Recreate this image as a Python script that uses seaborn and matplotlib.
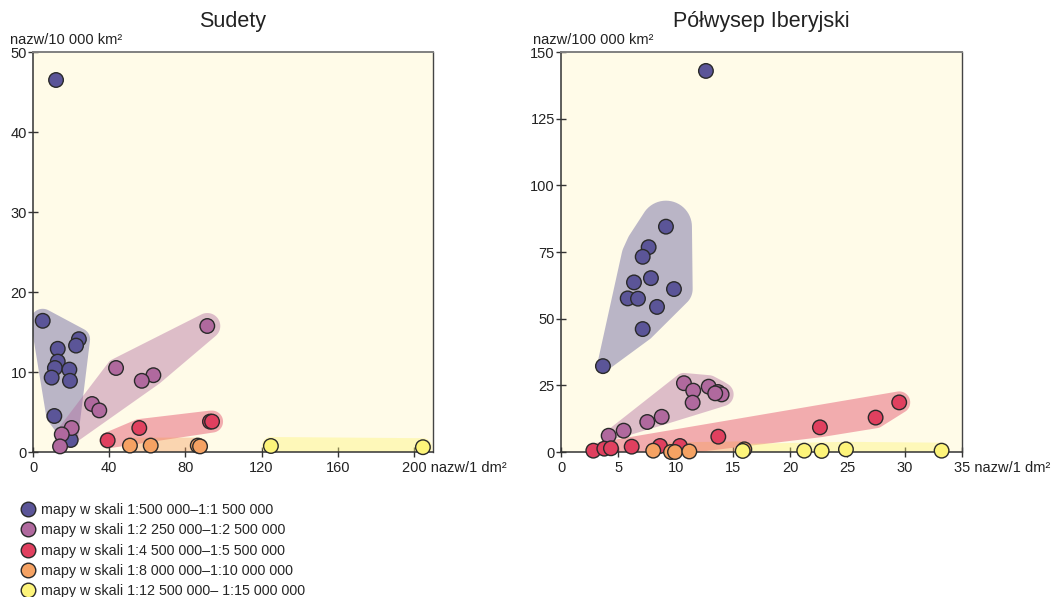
import numpy as np
import pandas as pd
import matplotlib
matplotlib.use("Agg")
import matplotlib.pyplot as plt
import matplotlib.transforms as mtrans
from matplotlib.patches import Polygon
from matplotlib.lines import Line2D
import seaborn as sns

# ---------------- data ----------------
groups = [
    "mapy w skali 1:500 000\u20131:1 500 000",
    "mapy w skali 1:2 250 000\u20131:2 500 000",
    "mapy w skali 1:4 500 000\u20131:5 500 000",
    "mapy w skali 1:8 000 000\u20131:10 000 000",
    "mapy w skali 1:12 500 000\u2013 1:15 000 000",
]
colors = ["#5b5598", "#b0699e", "#e0405f", "#f5a263", "#fdf47a"]

# Sudety (x: nazw/1 dm², y: nazw/10 000 km²)
sud_x = [
    [12.1, 5.1, 13.0, 24.1, 22.6, 13.0, 11.5, 9.8, 19.1, 19.4, 11.2, 19.8],
    [91.5, 43.6, 63.2, 57.1, 31.0, 34.8, 20.3, 15.1, 14.2],
    [39.2, 55.8, 92.9, 94.0],
    [50.9, 61.8, 86.5, 87.7],
    [124.9, 204.7],
]
sud_y = [
    [46.5, 16.4, 12.9, 14.1, 13.3, 11.3, 10.5, 9.3, 10.3, 8.9, 4.5, 1.5],
    [15.75, 10.5, 9.6, 8.9, 6.0, 5.2, 3.0, 2.2, 0.7],
    [1.45, 3.0, 3.8, 3.8],
    [0.8, 0.8, 0.8, 0.7],
    [0.75, 0.6],
]

# Półwysep Iberyjski (x: nazw/1 dm², y: nazw/100 000 km²)
ib_x = [
    [9.16, 7.65, 7.13, 7.85, 6.37, 9.86, 5.82, 6.72, 8.38, 7.13, 3.66, 12.65],
    [10.73, 11.54, 12.89, 13.7, 14.02, 13.46, 11.49, 8.79, 7.53, 5.47, 4.16],
    [2.82, 3.78, 4.36, 6.17, 8.64, 10.38, 13.73, 22.6, 27.46, 29.52],
    [8.05, 9.6, 9.95, 11.2, 16.0],
    [15.86, 21.23, 22.75, 24.87, 33.22],
]
ib_y = [
    [84.5, 76.8, 73.2, 65.2, 63.6, 61.1, 57.6, 57.5, 54.4, 46.1, 32.2, 142.9],
    [25.8, 23.0, 24.5, 22.5, 21.6, 22.0, 18.5, 13.2, 11.25, 8.0, 6.1],
    [0.5, 1.25, 1.4, 2.0, 2.25, 2.25, 5.75, 9.25, 12.9, 18.6],
    [0.5, 0.0, 0.0, 0.2, 1.0],
    [0.4, 0.5, 0.4, 1.0, 0.5],
]

sud_xticks = [0, 40, 80, 120, 160, 200]
sud_yticks = [0, 10, 20, 30, 40, 50]
ib_xticks = [0, 5, 10, 15, 20, 25, 30, 35]
ib_yticks = [0, 25, 50, 75, 100, 125, 150]


def to_df(xs, ys):
    rows = []
    for g, xx, yy in zip(groups, xs, ys):
        for a, b in zip(xx, yy):
            rows.append((g, a, b))
    return pd.DataFrame(rows, columns=["grupa", "x", "y"])


# ---------------- style ----------------
sns.set_style("ticks")
plt.rcParams["font.family"] = ["Liberation Sans", "DejaVu Sans"]
plt.rcParams["axes.unicode_minus"] = False

W, H = 1052, 597
fig = plt.figure(figsize=(W / 100, H / 100), dpi=100)
BG = "#fffbe8"


def convex_hull(p):
    p = sorted(set(map(tuple, np.round(p, 4))))
    def cross(o, a, b):
        return (a[0] - o[0]) * (b[1] - o[1]) - (a[1] - o[1]) * (b[0] - o[0])
    lower = []
    for q in p:
        while len(lower) >= 2 and cross(lower[-2], lower[-1], q) <= 0:
            lower.pop()
        lower.append(q)
    upper = []
    for q in reversed(p):
        while len(upper) >= 2 and cross(upper[-2], upper[-1], q) <= 0:
            upper.pop()
        upper.append(q)
    return np.array(lower[:-1] + upper[:-1])


def region(ax, xs, ys, color, r0, r1):
    pts = ax.transData.transform(np.column_stack([xs, ys]))
    med = np.median(pts, axis=0)
    dist = np.hypot(*(pts - med).T)
    md = np.median(dist)
    keep = dist <= max(6 * md, 150)
    pts = pts[keep]
    c = pts.mean(0)
    if len(pts) > 1:
        _, _, vt = np.linalg.svd(pts - c)
        d = vt[0]
    else:
        d = np.array([1.0, 0.0])
    origin = ax.transData.transform((0, 0))
    t = (pts - c) @ d
    if (origin - c) @ d > 0:
        t = -t
    rng = np.ptp(t) if np.ptp(t) > 0 else 1
    t = (t - t.min()) / rng
    ang = np.linspace(0, 2 * np.pi, 60, endpoint=False)
    ring = []
    for (px, py), tt in zip(pts, t):
        r = r0 + (r1 - r0) * tt
        ring.append(np.column_stack([px + r * np.cos(ang), py + r * np.sin(ang)]))
    hull = convex_hull(np.vstack(ring))
    data = ax.transData.inverted().transform(hull)
    ax.add_patch(Polygon(data, closed=True, facecolor=color, alpha=0.42,
                         edgecolor="none", zorder=1))


def panel(rect, xs, ys, xlim, ylim, xticks, yticks, radii):
    ax = fig.add_axes(rect)
    ax.set_facecolor(BG)
    ax.set_xlim(*xlim)
    ax.set_ylim(*ylim)
    for (gx, gy, col, (r0, r1)) in zip(xs, ys, colors, radii):
        region(ax, gx, gy, col, r0, r1)
    df = to_df(xs, ys)
    sns.scatterplot(data=df, x="x", y="y", hue="grupa", palette=colors,
                    hue_order=groups, s=110, edgecolor="#2a2a2a", linewidth=1.0,
                    legend=False, ax=ax, zorder=3, clip_on=False)
    ax.set_xlim(*xlim)
    ax.set_ylim(*ylim)
    ax.set_xlabel("")
    ax.set_ylabel("")
    ax.set_xticks(xticks)
    ax.set_yticks(yticks)
    labels = [str(v) for v in xticks]
    labels[-1] = labels[-1] + " nazw/1 dm\u00b2"
    ax.set_xticklabels(labels)
    ax.tick_params(direction="inout", length=7, width=1, colors="#333333",
                   labelsize=10.5, labelcolor="#222222", pad=3)
    ax.tick_params(axis="y", pad=1)
    # shift last label so that its number sits on the tick
    last = ax.get_xticklabels()[-1]
    nwid = len(str(xticks[-1])) * 0.556 * 10.5 * 100 / 72
    last.set_horizontalalignment("left")
    last.set_transform(last.get_transform() +
                       mtrans.ScaledTranslation(-nwid / 2 / 100, 0, fig.dpi_scale_trans))
    for s in ["left", "bottom"]:
        ax.spines[s].set_color("#333333")
        ax.spines[s].set_linewidth(1.1)
    ax.spines["top"].set_color("#808080")
    ax.spines["top"].set_linewidth(1.4)
    ax.spines["right"].set_color("#444444")
    ax.spines["right"].set_linewidth(1.0)
    return ax


def frac_rect(x0, y0, x1, y1):
    return [x0 / W, 1 - y1 / H, (x1 - x0) / W, (y1 - y0) / H]


ax1 = panel(frac_rect(33, 52, 433, 452), sud_x, sud_y, (0, 210), (0, 50),
            sud_xticks, sud_yticks,
            [(7, 12), (6, 13), (8, 11), (8, 8), (9, 9)])
ax2 = panel(frac_rect(561, 52, 962, 452), ib_x, ib_y, (0, 35), (0, 150),
            ib_xticks, ib_yticks,
            [(6, 26), (5, 12), (7, 11), (8, 8), (7, 8)])

fig.text(233 / W, 1 - 22 / H, "Sudety", ha="center", va="center",
         fontsize=15.5, color="#222222")
fig.text(761 / W, 1 - 22 / H, "P\u00f3\u0142wysep Iberyjski", ha="center",
         va="center", fontsize=15.5, color="#222222")
fig.text(10 / W, 1 - 40 / H, "nazw/10 000 km\u00b2", ha="left", va="center",
         fontsize=10.5, color="#222222")
fig.text(533 / W, 1 - 40 / H, "nazw/100 000 km\u00b2", ha="left", va="center",
         fontsize=10.5, color="#222222")

handles = [Line2D([], [], marker="o", linestyle="none", markersize=10.5,
                  markerfacecolor=c, markeredgecolor="#2a2a2a",
                  markeredgewidth=1.0) for c in colors]
fig.legend(handles, groups, loc="upper left",
           bbox_to_anchor=(20.5 / W, 1 - 503 / H), frameon=False,
           borderpad=0, borderaxespad=0, handlelength=1.0, handletextpad=0.45,
           labelspacing=0.44, fontsize=10.3)

fig.savefig("out.png", dpi=100, facecolor="white")
